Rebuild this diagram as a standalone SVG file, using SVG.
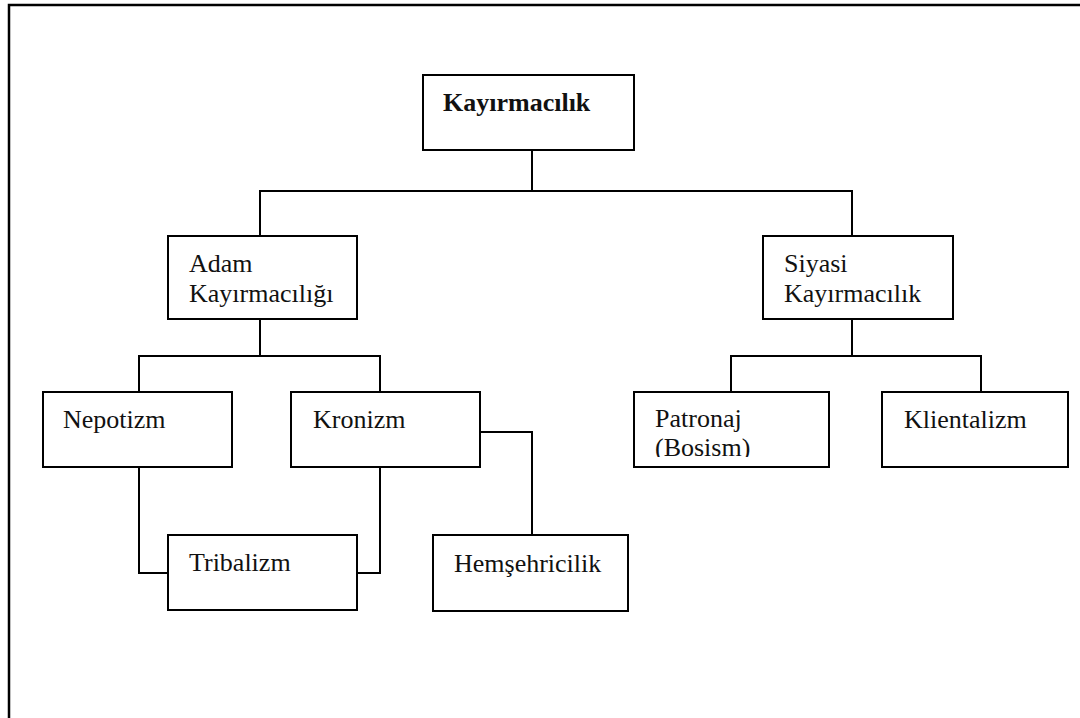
<svg xmlns="http://www.w3.org/2000/svg" width="1080" height="718" viewBox="0 0 1080 718">
  <style>
    .box { fill: #ffffff; stroke: #000000; stroke-width: 2; }
    .frame { fill: none; stroke: #000000; stroke-width: 2.5; }
    .link { fill: none; stroke: #000000; stroke-width: 2; }
    .label { font-size: 26px; fill: #111111; }
    .title { font-weight: bold; }
  </style>
  <defs>
    <clipPath id="clip-patronaj">
      <rect x="635" y="393" width="193" height="64"/>
    </clipPath>
  </defs>

  <rect width="1080" height="718" fill="#ffffff"/>

  <!-- page frame (continues past the right and bottom edges) -->
  <path class="frame" d="M9,730 V5 H1090"/>

  <g id="connectors">
    <!-- root to level 1 -->
    <path class="link" d="M532,150 V191"/>
    <path class="link" d="M260,236 V191 H852 V236"/>
    <!-- Adam Kayırmacılığı children -->
    <path class="link" d="M260,319 V356"/>
    <path class="link" d="M139,392 V356 H380 V392"/>
    <!-- Siyasi Kayırmacılık children -->
    <path class="link" d="M852,319 V356"/>
    <path class="link" d="M731,392 V356 H981 V392"/>
    <!-- Nepotizm / Kronizm to Tribalizm -->
    <path class="link" d="M139,467 V573 H168"/>
    <path class="link" d="M380,467 V573 H357"/>
    <!-- Kronizm to Hemşehricilik -->
    <path class="link" d="M480,432 H532 V535"/>
  </g>

  <g font-family="Liberation Serif, Tinos, DejaVu Serif, serif">
    <g id="node-kayirmacilik">
      <rect class="box" x="423" y="75" width="211" height="75"/>
      <text class="label title" x="443" y="111">Kayırmacılık</text>
    </g>

    <g id="node-adam">
      <rect class="box" x="168" y="236" width="189" height="83"/>
      <text class="label" x="189" y="272">Adam</text>
      <text class="label" x="189" y="302">Kayırmacılığı</text>
    </g>

    <g id="node-siyasi">
      <rect class="box" x="763" y="236" width="190" height="83"/>
      <text class="label" x="784" y="272">Siyasi</text>
      <text class="label" x="784" y="302">Kayırmacılık</text>
    </g>

    <g id="node-nepotizm">
      <rect class="box" x="43" y="392" width="189" height="75"/>
      <text class="label" x="63" y="428">Nepotizm</text>
    </g>

    <g id="node-kronizm">
      <rect class="box" x="291" y="392" width="189" height="75"/>
      <text class="label" x="313" y="428">Kronizm</text>
    </g>

    <g id="node-patronaj">
      <rect class="box" x="634" y="392" width="195" height="75"/>
      <g clip-path="url(#clip-patronaj)">
        <text class="label" x="655" y="427">Patronaj</text>
        <text class="label" x="655" y="456">(Bosism)</text>
      </g>
    </g>

    <g id="node-klientalizm">
      <rect class="box" x="882" y="392" width="186" height="75"/>
      <text class="label" x="904" y="428">Klientalizm</text>
    </g>

    <g id="node-tribalizm">
      <rect class="box" x="168" y="535" width="189" height="75"/>
      <text class="label" x="189" y="571">Tribalizm</text>
    </g>

    <g id="node-hemsehricilik">
      <rect class="box" x="433" y="535" width="195" height="76"/>
      <text class="label" x="454" y="572">Hemşehricilik</text>
    </g>
  </g>
</svg>
